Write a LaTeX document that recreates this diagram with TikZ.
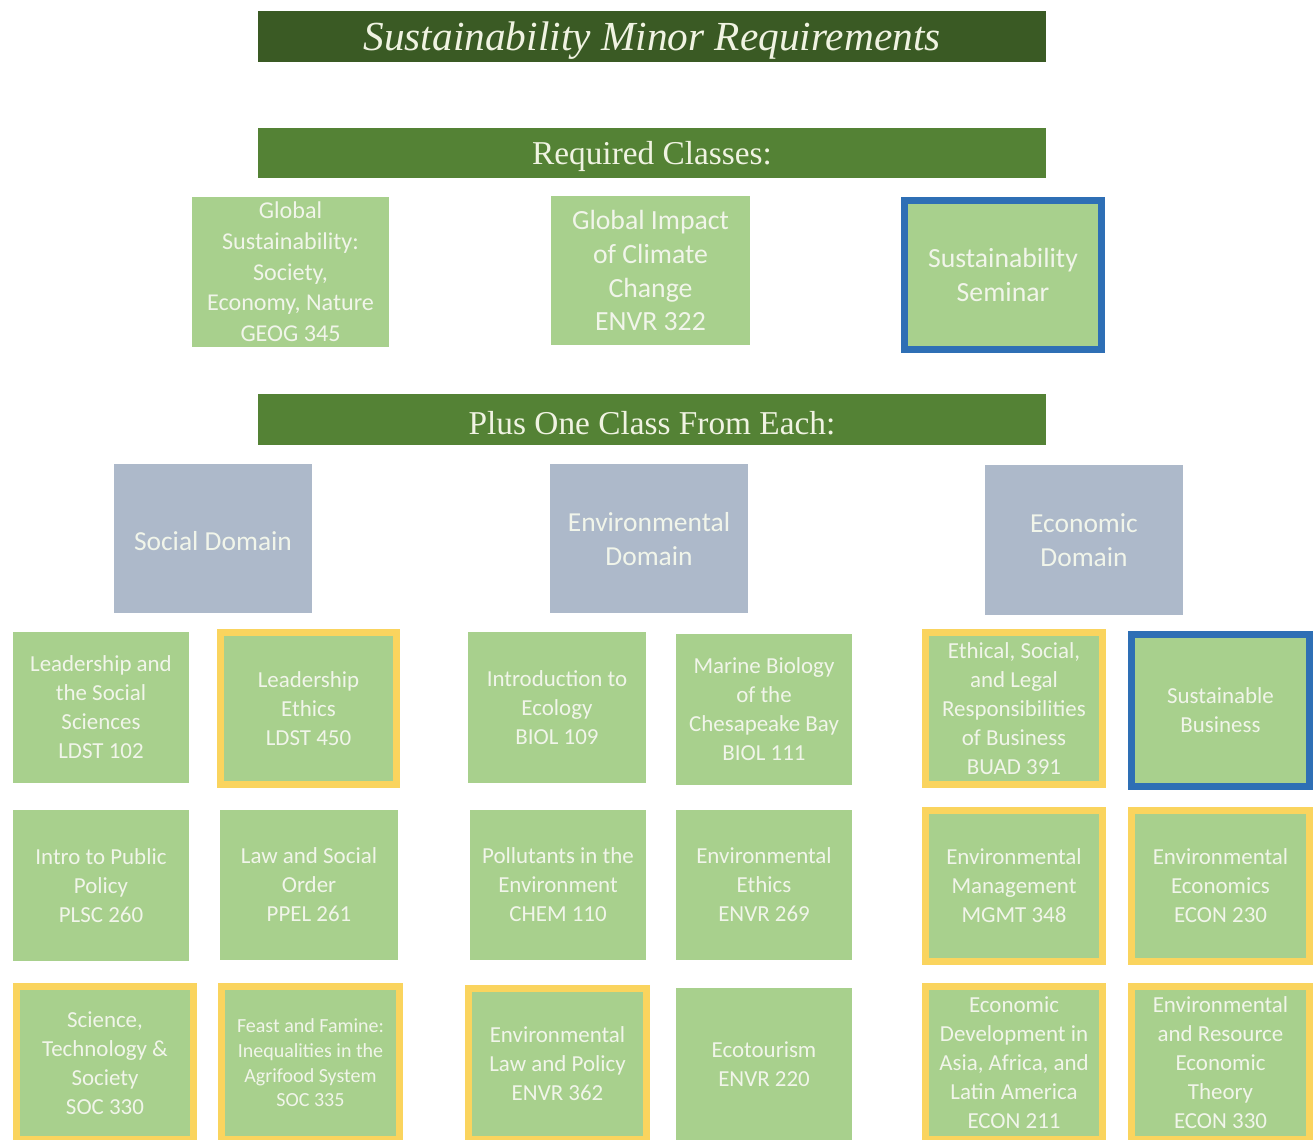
\documentclass[tikz,border=0pt]{standalone}
\usepackage{fontspec}
\newfontfamily\carl{Carlito}
\newfontfamily\serifhd{Liberation Serif}
\definecolor{darkbar}{HTML}{3A5A24}
\definecolor{midbar}{HTML}{548235}
\definecolor{boxgreen}{HTML}{A8D08D}
\definecolor{domgray}{HTML}{ADB9CA}
\definecolor{ringyellow}{HTML}{FAD45E}
\definecolor{ringblue}{HTML}{2E6FB5}
\definecolor{paletext}{HTML}{F1F5EA}
\definecolor{bartext}{HTML}{F0F3E2}
\newcommand\plainbox[7]{\node[#6, minimum width={(#4-#2)*0.75pt}, minimum height={(#5-#3)*0.75pt}] (#1) at ({(#2+#4)/2},{(#3+#5)/2}) {#7};}
\newcommand\ringbox[7]{\node[#6, minimum width={(#4-#2-7)*0.75pt}, minimum height={(#5-#3-7)*0.75pt}] (#1) at ({(#2+#4)/2},{(#3+#5)/2}) {#7};}
\newcommand\lowered[2]{\raisebox{-#1}[\height][\depth]{#2}}
\tikzset{
  base/.style={inner sep=0pt, outer sep=0pt, align=center, text=paletext},
  bar/.style={base, fill=midbar, text=bartext, font=\serifhd\fontsize{25}{29}\selectfont},
  titlebar/.style={bar, fill=darkbar, font=\serifhd\itshape\fontsize{31}{35}\selectfont},
  course/.style={base, fill=boxgreen, font=\carl\fontsize{17.2}{21.75}\selectfont},
  reqsmall/.style={course, font=\carl\fontsize{18.1}{23}\selectfont},
  reqbig/.style={course, font=\carl\fontsize{20.8}{25.4}\selectfont},
  dombox/.style={base, fill=domgray, font=\carl\fontsize{20.6}{25.5}\selectfont},
  yring/.style={draw=ringyellow, line width=5.25pt},
  bring/.style={draw=ringblue, line width=5.25pt},
}
\begin{document}
\begin{tikzpicture}[x=0.75pt,y=-0.75pt]
\useasboundingbox (0,0) rectangle (1316,1139);
\clip (0,0) rectangle (1316,1139);
% header bars
\plainbox{title}{258}{11}{1046}{62}{titlebar}{\lowered{3pt}{Sustainability Minor Requirements}}
\plainbox{req}{258}{128}{1046}{178}{bar}{\lowered{2.5pt}{Required Classes:}}
\plainbox{plus}{258}{394}{1046}{445}{bar}{\lowered{2.5pt}{Plus One Class From Each:}}
% required classes
\plainbox{geog}{192}{197}{389}{347}{reqsmall}{Global\\Sustainability:\\Society,\\Economy, Nature\\GEOG 345}
\plainbox{envrA}{551}{196}{750}{345}{reqbig,text depth=0pt}{Global Impact\\of Climate\\Change\\ENVR 322}
\ringbox{sem}{901}{197}{1105}{353}{reqbig,bring}{Sustainability\\Seminar}
% domains
\plainbox{soc}{114}{464}{312}{613}{dombox}{\lowered{2pt}{Social Domain}}
\plainbox{env}{550}{464}{748}{613}{dombox,text depth=0pt}{Environmental\\Domain}
\plainbox{eco}{985}{465}{1183}{615}{dombox,text depth=0pt}{Economic\\Domain}
% row 1
\plainbox{ldstA}{13}{632}{189}{783}{course}{Leadership and\\the Social\\Sciences\\LDST 102}
\ringbox{ldstB}{217}{629}{400}{788}{course,yring}{Leadership\\Ethics\\LDST 450}
\plainbox{biolA}{468}{632}{646}{783}{course}{Introduction to\\Ecology\\BIOL 109}
\plainbox{biolB}{676}{634}{852}{785}{course}{Marine Biology\\of the\\Chesapeake Bay\\BIOL 111}
\ringbox{buad}{922}{629}{1106}{788}{course,yring}{Ethical, Social,\\and Legal\\Responsibilities\\of Business\\BUAD 391}
\ringbox{sbus}{1128}{631}{1313}{790}{course,bring}{Sustainable\\Business}
% row 2
\plainbox{plsc}{13}{810}{189}{961}{course}{Intro to Public\\Policy\\PLSC 260}
\plainbox{ppel}{220}{810}{398}{960}{course}{Law and Social\\Order\\PPEL 261}
\plainbox{chem}{470}{810}{646}{960}{course}{Pollutants in the\\Environment\\CHEM 110}
\plainbox{envrB}{676}{810}{852}{960}{course}{Environmental\\Ethics\\ENVR 269}
\ringbox{mgmt}{922}{807}{1106}{965}{course,yring}{Environmental\\Management\\MGMT 348}
\ringbox{econA}{1128}{807}{1313}{965}{course,yring}{Environmental\\Economics\\ECON 230}
% row 3
\ringbox{socA}{13}{983}{197}{1143}{course,yring}{Science,\\Technology \&\\Society\\SOC 330}
\ringbox{socB}{218}{983}{403}{1143}{course,yring,font=\carl\fontsize{15}{18.5}\selectfont}{Feast and Famine:\\Inequalities in the\\Agrifood System\\SOC 335}
\ringbox{envrC}{465}{985}{650}{1143}{course,yring}{Environmental\\Law and Policy\\ENVR 362}
\plainbox{envrD}{676}{988}{852}{1140}{course}{Ecotourism\\ENVR 220}
\ringbox{econB}{922}{983}{1106}{1143}{course,yring}{Economic\\Development in\\Asia, Africa, and\\Latin America\\ECON 211}
\ringbox{econC}{1128}{983}{1313}{1143}{course,yring}{Environmental\\and Resource\\Economic\\Theory\\ECON 330}
\end{tikzpicture}
\end{document}
